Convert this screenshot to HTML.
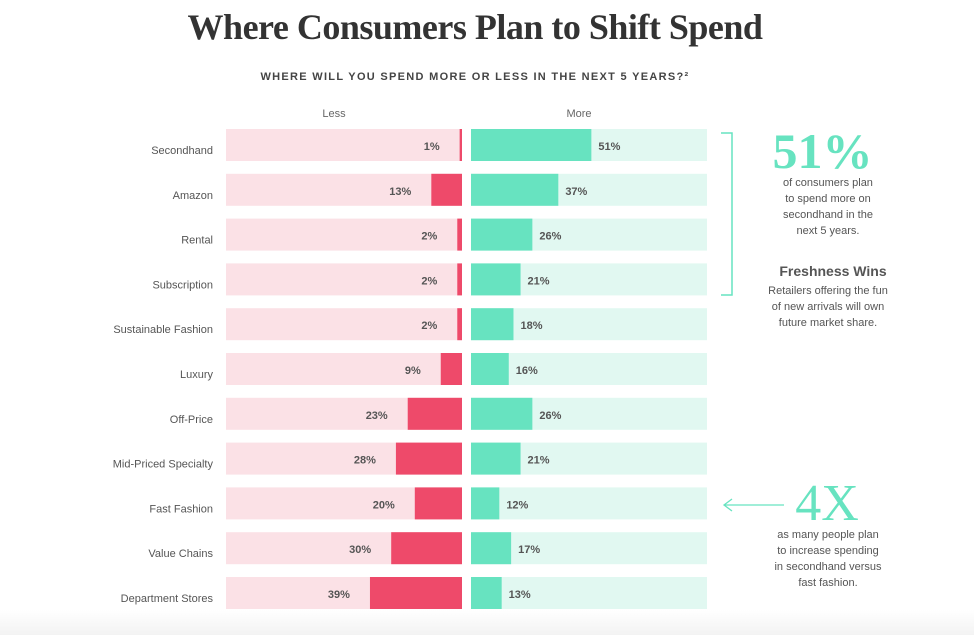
<!DOCTYPE html>
<html><head><meta charset="utf-8">
<style>
body{margin:0;width:974px;height:635px;overflow:hidden;background:#fff;font-family:"Liberation Sans",sans-serif;position:relative}
.abs{position:absolute}
#title{left:0;width:950px;top:6px;text-align:center;font-family:"Liberation Serif",serif;font-weight:bold;font-size:36px;color:#333;letter-spacing:-0.5px}
#sub{left:0;width:950px;top:71px;text-align:center;font-size:11px;font-weight:bold;letter-spacing:1.3px;color:#444}
.txt{color:#555;font-size:11px;text-align:center;line-height:16px}
#bottom{left:0;top:610px;width:974px;height:25px;background:linear-gradient(#fff,#f3f3f3)}
</style></head><body>
<div id="title" class="abs">Where Consumers Plan to Shift Spend</div>
<div id="sub" class="abs">WHERE WILL YOU SPEND MORE OR LESS IN THE NEXT 5 YEARS?²</div>
<svg class="abs" style="left:0;top:0" width="974" height="635" id="chart"></svg>
<div class="abs" style="left:750px;top:123px;width:155px;text-align:center;font-family:'Liberation Serif',serif;font-weight:bold;font-size:50px;color:#67e3c0;line-height:56px;margin-left:-5px">51%</div>
<div class="abs txt" style="left:748px;top:175px;width:160px">of consumers plan<br>to spend more on<br>secondhand in the<br>next 5 years.</div>
<div class="abs" style="left:753px;top:263px;width:160px;text-align:center;font-size:14px;font-weight:bold;color:#555">Freshness Wins</div>
<div class="abs txt" style="left:748px;top:283px;width:160px">Retailers offering the fun<br>of new arrivals will own<br>future market share.</div>
<div class="abs" style="left:777px;top:476px;width:100px;text-align:center;font-family:'Liberation Serif',serif;font-size:52px;color:#67e3c0;line-height:56px">4X</div>
<div class="abs txt" style="left:748px;top:527px;width:160px">as many people plan<br>to increase spending<br>in secondhand versus<br>fast fashion.</div>
<div id="bottom" class="abs"></div>
<script>
const categories=["Secondhand","Amazon","Rental","Subscription","Sustainable Fashion","Luxury","Off-Price","Mid-Priced Specialty","Fast Fashion","Value Chains","Department Stores"];
const lessValues=[1,13,2,2,2,9,23,28,20,30,39];
const moreValues=[51,37,26,21,18,16,26,21,12,17,13];
const svg=document.getElementById('chart');
const NS='http://www.w3.org/2000/svg';
const lessRight=462,moreLeft=471,full=236,rowTop=129,rowStep=44.8,barH=32;
const xs=v=>v/100*full;
const rowY=i=>rowTop+i*rowStep;
function mk(tag,attrs,text){const e=document.createElementNS(NS,tag);for(const k in attrs)e.setAttribute(k,attrs[k]);if(text!==undefined)e.textContent=text;svg.appendChild(e);return e;}
let h=mk('text',{x:334,y:117,'text-anchor':'middle','font-size':11,fill:'#666','font-family':'Liberation Sans'},'Less');

h=mk('text',{x:579,y:117,'text-anchor':'middle','font-size':11,fill:'#666','font-family':'Liberation Sans'},'More');

categories.forEach((c,i)=>{
  const y=rowY(i);
  let e=mk('text',{x:213,y:y+barH/2+9,'text-anchor':'end','font-size':11,fill:'#555','font-family':'Liberation Sans'},c);
  
  e=mk('rect',{x:lessRight-full,y:y,width:full,height:barH,fill:'#fbe1e6'});
  
  const lw=xs(lessValues[i]);
  e=mk('rect',{x:lessRight-lw,y:y,width:lw,height:barH,fill:'#ee4a6a'});
  
  e=mk('text',{x:lessRight-lw-20,y:y+barH/2+5,'text-anchor':'end','font-size':11,'font-weight':'bold',fill:'#555','font-family':'Liberation Sans'},lessValues[i]+'%');
  
  e=mk('rect',{x:moreLeft,y:y,width:full,height:barH,fill:'#e1f8f1'});
  
  const mw=xs(moreValues[i]);
  e=mk('rect',{x:moreLeft,y:y,width:mw,height:barH,fill:'#67e3c0'});
  
  e=mk('text',{x:moreLeft+mw+7,y:y+barH/2+5,'font-size':11,'font-weight':'bold',fill:'#555','font-family':'Liberation Sans'},moreValues[i]+'%');
  
});
let b=mk('polyline',{points:'721,133 732,133 732,295 721,295',fill:'none',stroke:'#67e3c0','stroke-width':1.5});

b=mk('path',{d:'M784,505 L724,505 M732,499 L724,505 L732,511',fill:'none',stroke:'#67e3c0','stroke-width':1.3});

</script>
</body></html>
